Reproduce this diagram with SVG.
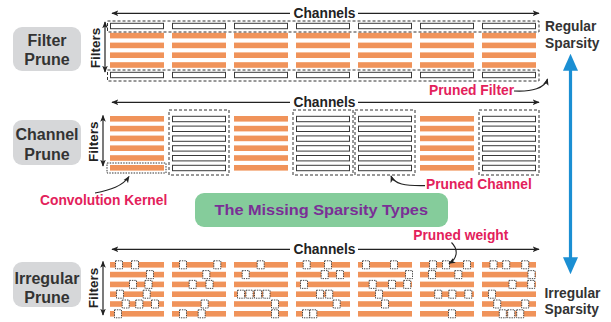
<svg xmlns="http://www.w3.org/2000/svg" xmlns:xlink="http://www.w3.org/1999/xlink" width="611" height="322" viewBox="0 0 611 322">
<style>
text{font-family:"Liberation Sans",Arial,Helvetica,sans-serif;font-weight:bold}
.lab{font-size:16px;fill:#333;text-anchor:middle}
.ch{font-size:13.8px;fill:#222;text-anchor:middle}
.fi{font-size:13.5px;fill:#222;text-anchor:middle}
.sp{font-size:13.8px;fill:#333}
.red{font-size:13.8px;fill:#e3215b}
.box{fill:#d6d7d9}
.or{fill:#f0935a}
.wh{fill:#fff;stroke:#3a3a3a;stroke-width:1}
.dash{fill:none;stroke:#333;stroke-width:1;stroke-dasharray:3 2}
.dot{fill:none;stroke:#333;stroke-width:1;stroke-dasharray:1.5 1.2}
.pw{fill:#fff;stroke:#333;stroke-width:0.9;stroke-dasharray:1.4 1}
.ln{fill:none;stroke:#222;stroke-width:1.2}
.cv{fill:none;stroke:#222;stroke-width:1.1}
</style>
<defs>
<marker id="ah" viewBox="0 0 10 10" refX="9" refY="5" markerWidth="7" markerHeight="7" orient="auto-start-reverse" markerUnits="userSpaceOnUse"><path d="M0,1 L10,5 L0,9 L2.5,5 z" fill="#222"/></marker>
<marker id="bh" viewBox="0 0 10 10" refX="1" refY="5" markerWidth="17" markerHeight="15" orient="auto-start-reverse" markerUnits="userSpaceOnUse" preserveAspectRatio="none"><path d="M0,0 L10,5 L0,10 z" fill="#1b8fd3"/></marker>
<rect id="orow" width="54" height="5.6" class="or"/>
<rect id="wrow" x="0.5" y="0.3" width="53" height="5.4" class="wh"/>
<g id="ocol6"><use href="#orow"/><use href="#orow" y="9.8"/><use href="#orow" y="19.6"/><use href="#orow" y="29.4"/><use href="#orow" y="39.2"/><use href="#orow" y="49"/></g>
<g id="wcol6"><use href="#wrow"/><use href="#wrow" y="9.8"/><use href="#wrow" y="19.6"/><use href="#wrow" y="29.4"/><use href="#wrow" y="39.2"/><use href="#wrow" y="49"/></g>
<g id="tcol"><use href="#wrow"/><use href="#orow" y="9.8"/><use href="#orow" y="19.6"/><use href="#orow" y="29.4"/><use href="#orow" y="39.2"/><use href="#wrow" y="49"/></g>
<rect id="pw" x="-3.5" y="-4" width="7" height="8" class="pw"/>
</defs>

<g id="filter-prune-label"><rect class="box" x="13" y="27" width="68" height="44" rx="9"/><text class="lab" x="47" y="45.5">Filter</text><text class="lab" x="47" y="65">Prune</text></g>
<g id="channel-prune-label"><rect class="box" x="13" y="120" width="68" height="45" rx="9"/><text class="lab" x="47" y="140">Channel</text><text class="lab" x="47" y="160">Prune</text></g>
<g id="irregular-prune-label"><rect class="box" x="13" y="262" width="68" height="45" rx="9"/><text class="lab" x="47" y="284">Irregular</text><text class="lab" x="47" y="302.5">Prune</text></g>

<g id="filter-prune">
<use href="#tcol" x="110" y="23"/><use href="#tcol" x="172" y="23"/><use href="#tcol" x="234" y="23"/><use href="#tcol" x="296" y="23"/><use href="#tcol" x="358" y="23"/><use href="#tcol" x="420" y="23"/><use href="#tcol" x="482" y="23"/>
<rect class="dash" x="107.5" y="21" width="431.5" height="11"/>
<rect class="dash" x="107.5" y="70" width="431.5" height="11"/>
</g>

<g id="channel-prune">
<use href="#ocol6" x="110" y="116"/><use href="#wcol6" x="172" y="116"/><use href="#ocol6" x="234" y="116"/><use href="#wcol6" x="296" y="116"/><use href="#wcol6" x="358" y="116"/><use href="#ocol6" x="420" y="116"/><use href="#wcol6" x="482" y="116"/>
<rect class="dash" x="169" y="110" width="60" height="65"/>
<rect class="dash" x="293" y="110" width="60" height="65"/>
<rect class="dash" x="355" y="110" width="60" height="65"/>
<rect class="dash" x="479" y="110" width="60" height="65"/>
<rect class="dot" x="107" y="163" width="59" height="10"/>
</g>

<g id="irregular-prune">
<use href="#ocol6" x="110" y="262"/><use href="#ocol6" x="172" y="262"/><use href="#ocol6" x="234" y="262"/><use href="#ocol6" x="296" y="262"/><use href="#ocol6" x="358" y="262"/><use href="#ocol6" x="420" y="262"/><use href="#ocol6" x="482" y="262"/>
<g id="pruned-weights">
<use href="#pw" x="119" y="264.8"/><use href="#pw" x="135" y="264.8"/><use href="#pw" x="150" y="274.6"/><use href="#pw" x="133" y="284.4"/><use href="#pw" x="148.5" y="284.4"/><use href="#pw" x="120" y="294.2"/><use href="#pw" x="146.7" y="294.2"/><use href="#pw" x="125.7" y="304"/><use href="#pw" x="139.3" y="304"/><use href="#pw" x="155" y="304"/><use href="#pw" x="118" y="313.8"/>
<use href="#pw" x="183" y="264.8"/><use href="#pw" x="217.3" y="264.8"/><use href="#pw" x="206.3" y="274.6"/><use href="#pw" x="192.7" y="284.4"/><use href="#pw" x="209.5" y="284.4"/><use href="#pw" x="204.7" y="304"/><use href="#pw" x="183" y="313.8"/><use href="#pw" x="201.7" y="313.8"/>
<use href="#pw" x="260.7" y="264.8"/><use href="#pw" x="245.7" y="274.6"/><use href="#pw" x="241" y="294.2"/><use href="#pw" x="249.5" y="294.2"/><use href="#pw" x="258" y="294.2"/><use href="#pw" x="266.5" y="294.2"/><use href="#pw" x="275" y="304"/><use href="#pw" x="275" y="313.8"/>
<use href="#pw" x="306.7" y="264.8"/><use href="#pw" x="328" y="264.8"/><use href="#pw" x="324.7" y="274.6"/><use href="#pw" x="340" y="274.6"/><use href="#pw" x="304" y="284.4"/><use href="#pw" x="320" y="294.2"/><use href="#pw" x="329.2" y="294.2"/><use href="#pw" x="336.7" y="304"/><use href="#pw" x="306" y="313.8"/><use href="#pw" x="313.3" y="313.8"/>
<use href="#pw" x="366" y="264.8"/><use href="#pw" x="394" y="264.8"/><use href="#pw" x="409" y="274.6"/><use href="#pw" x="372.7" y="284.4"/><use href="#pw" x="392" y="284.4"/><use href="#pw" x="407.2" y="284.4"/><use href="#pw" x="379" y="294.2"/><use href="#pw" x="385" y="304"/>
<use href="#pw" x="433" y="264.8"/><use href="#pw" x="446" y="264.8"/><use href="#pw" x="467" y="264.8"/><use href="#pw" x="432" y="274.6"/><use href="#pw" x="458.3" y="274.6"/><use href="#pw" x="438.2" y="294.2"/><use href="#pw" x="452.3" y="294.2"/><use href="#pw" x="468.3" y="294.2"/><use href="#pw" x="452" y="313.8"/>
<use href="#pw" x="493.5" y="264.8"/><use href="#pw" x="506.2" y="264.8"/><use href="#pw" x="525.2" y="264.8"/><use href="#pw" x="531.5" y="274.6"/><use href="#pw" x="512.5" y="284.4"/><use href="#pw" x="531.2" y="284.4"/><use href="#pw" x="492" y="294.2"/><use href="#pw" x="497.2" y="304"/><use href="#pw" x="525.2" y="304"/><use href="#pw" x="502.8" y="313.8"/><use href="#pw" x="511.2" y="313.8"/><use href="#pw" x="520.2" y="313.8"/>
</g>
</g>

<g id="axis-labels">
<text class="ch" x="324.5" y="17.8">Channels</text>
<text class="ch" x="324.5" y="107">Channels</text>
<text class="ch" x="324.5" y="254">Channels</text>
<text class="fi" transform="translate(100,48) rotate(-90)">Filters</text>
<text class="fi" transform="translate(98,141.7) rotate(-90)">Filters</text>
<text class="fi" transform="translate(98,288) rotate(-90)">Filters</text>
</g>

<g id="sparsity-labels">
<text class="sp" x="545" y="31.3">Regular</text><text class="sp" x="545" y="48.3">Sparsity</text>
<text class="sp" x="544.5" y="297.5">Irregular</text><text class="sp" x="544.5" y="313.8">Sparsity</text>
</g>

<g id="annotations">
<text class="red" x="429" y="94.5">Pruned Filter</text>
<text class="red" x="426" y="189.3">Pruned Channel</text>
<text class="red" x="40" y="205" font-size="13.2">Convolution Kernel</text>
<text class="red" x="413.3" y="240">Pruned weight</text>
</g>

<g id="missing-types"><rect x="195" y="193" width="253" height="34" rx="9" fill="#85cc9b"/><text x="214.5" y="215" font-size="15" fill="#7a2f96" textLength="213.5" lengthAdjust="spacingAndGlyphs">The Missing Sparsity Types</text></g>

<g id="connectors">
<path class="ln" d="M290,13.3 H112" marker-end="url(#ah)"/><path class="ln" d="M358,13.3 H539" marker-end="url(#ah)"/>
<path class="ln" d="M290,102.3 H112" marker-end="url(#ah)"/><path class="ln" d="M358,102.3 H539" marker-end="url(#ah)"/>
<path class="ln" d="M290,249.3 H112" marker-end="url(#ah)"/><path class="ln" d="M358,249.3 H539" marker-end="url(#ah)"/>
<path class="ln" d="M105,22 V72" marker-start="url(#ah)" marker-end="url(#ah)"/>
<path class="ln" d="M103,115.5 V166" marker-start="url(#ah)" marker-end="url(#ah)"/>
<path class="ln" d="M103,261.5 V315" marker-start="url(#ah)" marker-end="url(#ah)"/>
<path class="cv" d="M514,91 C532,92 545,88 547.5,79" marker-end="url(#ah)"/>
<path class="cv" d="M425,185.6 C405,186 394,184 391,176" marker-end="url(#ah)"/>
<path class="cv" d="M95,193 C110,190 123,186 129,176.5" marker-end="url(#ah)"/>
<path class="cv" d="M451.5,242.5 C459,250 457,259 449,263.5" marker-end="url(#ah)"/>
<path d="M570.5,69 V259" stroke="#1b8fd3" stroke-width="3.2" fill="none" marker-start="url(#bh)" marker-end="url(#bh)"/>
</g>
</svg>
